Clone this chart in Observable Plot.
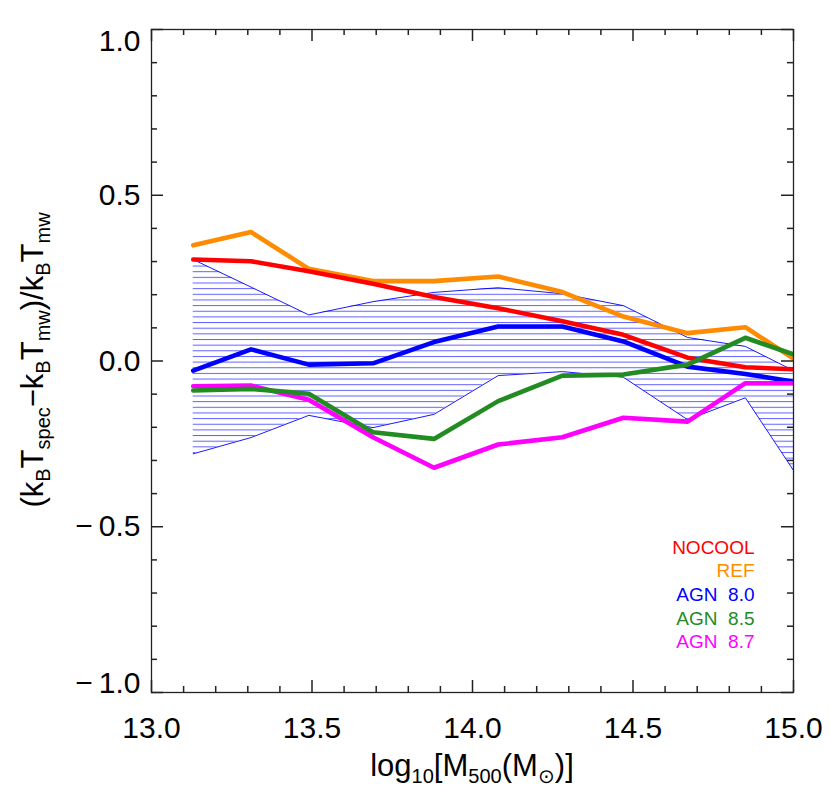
<!DOCTYPE html>
<html>
<head>
<meta charset="utf-8">
<script src="https://cdn.jsdelivr.net/npm/d3@7"></script>
<script src="https://cdn.jsdelivr.net/npm/@observablehq/plot@0.6"></script>
<style>
  html, body { margin: 0; padding: 0; background: #fff; }
  svg text { white-space: pre; }
</style>
</head>
<body>
<div id="chart"></div>
<script>
// ---- data ----
const mass = [13.13, 13.31, 13.49, 13.69, 13.88, 14.08, 14.28, 14.47, 14.67, 14.85, 15.0];
const nocool = [0.306, 0.301, 0.271, 0.233, 0.193, 0.159, 0.120, 0.079, 0.010, -0.019, -0.025];
const ref    = [0.349, 0.389, 0.278, 0.241, 0.241, 0.255, 0.208, 0.134, 0.084, 0.102, 0.007];
const agn80  = [-0.029, 0.035, -0.011, -0.007, 0.057, 0.104, 0.104, 0.059, -0.017, -0.039, -0.062];
const agn85  = [-0.089, -0.084, -0.099, -0.215, -0.235, -0.121, -0.044, -0.041, -0.011, 0.070, 0.020];
const agn87  = [-0.076, -0.074, -0.117, -0.230, -0.322, -0.252, -0.230, -0.171, -0.183, -0.067, -0.067];
const bandHi = [0.306, 0.223, 0.139, 0.179, 0.207, 0.221, 0.203, 0.167, 0.071, 0.044, -0.029];
const bandLo = [-0.280, -0.231, -0.164, -0.201, -0.161, -0.044, -0.032, -0.049, -0.177, -0.111, -0.330];

const seriesNames  = ["REF", "NOCOOL", "AGN 8.0", "AGN 8.7", "AGN 8.5"];
const seriesValues = [ref, nocool, agn80, agn87, agn85];
const seriesColors = ["#ff8c00", "#ff0000", "#0000ff", "#ff00ff", "#228b22"];

const legendNames  = ["NOCOOL", "REF", "AGN\u00a0\u00a08.0", "AGN\u00a0\u00a08.5", "AGN\u00a0\u00a08.7"];
const legendColors = ["#ff0000", "#ff8c00", "#0000ff", "#228b22", "#ff00ff"];

const xMajor = [13.0, 13.5, 14.0, 14.5, 15.0];
const xLabels = ["13.0", "13.5", "14.0", "14.5", "15.0"];
const xMinor = [13.1, 13.2, 13.3, 13.4, 13.6, 13.7, 13.8, 13.9, 14.1, 14.2, 14.3, 14.4, 14.6, 14.7, 14.8, 14.9];
const yMajor = [-1.0, -0.5, 0.0, 0.5, 1.0];
const yLabels = ["\u2212\u20091.0", "\u2212\u20090.5", "0.0", "0.5", "1.0"];
const yMinor = [-0.9, -0.8, -0.7, -0.6, -0.4, -0.3, -0.2, -0.1, 0.1, 0.2, 0.3, 0.4, 0.6, 0.7, 0.8, 0.9];

// ---- layout ----
const W = 830, H = 812, ML = 151, MR = 37, MT = 29, MB = 120;
const FW = W - ML - MR, FH = H - MT - MB;

// ---- tables ----
const band = mass.map((m, i) => ({m, hi: bandHi[i], lo: bandLo[i]}));
const lines = seriesNames.flatMap((name, s) => mass.map((m, i) => ({name, m, v: seriesValues[s][i]})));

const axisColor = "#222";
const FONT = "'Liberation Sans', Arial, Helvetica, sans-serif";

const yLab = (vals) => vals.map(v => ({v, t: yLabels[yMajor.indexOf(v)]}));

// inward ticks on all four sides (pixel lengths via insets)
const tickOpts = {stroke: axisColor, strokeWidth: 1.5};
const xTicks = (vals, len) => [
  Plot.tickX(vals, {x: d => d, insetTop: FH - len, ...tickOpts}),
  Plot.tickX(vals, {x: d => d, insetBottom: FH - len, ...tickOpts})
];
const yTicks = (vals, len) => [
  Plot.tickY(vals, {y: d => d, insetRight: FW - len, ...tickOpts}),
  Plot.tickY(vals, {y: d => d, insetLeft: FW - len, ...tickOpts})
];

const marks = [
  Plot.areaY(band, {x: "m", y1: "lo", y2: "hi", fill: "url(#hatch)", curve: "linear"}),
  Plot.lineY(band, {x: "m", y: "hi", stroke: "#0000ff", strokeWidth: 0.9}),
  Plot.lineY(band, {x: "m", y: "lo", stroke: "#0000ff", strokeWidth: 0.9}),
  ...seriesNames.map((name, s) =>
    Plot.lineY(lines.filter(d => d.name === name), {x: "m", y: "v", stroke: seriesColors[s], strokeWidth: 4.6, clip: true})
  ),
  Plot.frame({stroke: axisColor, strokeWidth: 1.3}),
  ...xTicks(xMajor, 12),
  ...xTicks(xMinor, 6),
  ...yTicks(yMajor, 12),
  ...yTicks(yMinor, 6),
  // tick labels
  Plot.text(xMajor.map((v, i) => ({v, t: xLabels[i]})), {x: "v", text: "t", frameAnchor: "bottom", lineAnchor: "top", dy: 24, fontSize: 30, fill: "#000"}),
  Plot.text(yLab([1.0]), {y: "v", text: "t", frameAnchor: "left", textAnchor: "end", lineAnchor: "top", dx: -11, fontSize: 30, fill: "#000"}),
  Plot.text(yLab([0.5, 0.0, -0.5]), {y: "v", text: "t", frameAnchor: "left", textAnchor: "end", lineAnchor: "middle", dx: -11, fontSize: 30, fill: "#000"}),
  Plot.text(yLab([-1.0]), {y: "v", text: "t", frameAnchor: "left", textAnchor: "end", lineAnchor: "bottom", dx: -11, fontSize: 30, fill: "#000"}),
  // legend
  ...legendNames.map((name, i) =>
    Plot.text([name], {text: d => d, frameAnchor: "bottom-right", textAnchor: "end", dx: -39, dy: -139 + i * 23.7, fontSize: 19, fill: legendColors[i]})
  )
];

const svg = Plot.plot({
  width: W,
  height: H,
  marginLeft: ML,
  marginRight: MR,
  marginTop: MT,
  marginBottom: MB,
  x: {domain: [13, 15], axis: null},
  y: {domain: [-1, 1], axis: null},
  style: {fontFamily: FONT, background: "#fff", color: "#000"},
  marks
});

// hatch pattern
const defs = d3.select(svg).insert("defs", ":first-child");
const pat = defs.append("pattern").attr("id", "hatch").attr("patternUnits", "userSpaceOnUse")
  .attr("width", 20).attr("height", 5.65);
pat.append("rect").attr("x", 0).attr("y", 0).attr("width", 20).attr("height", 1).attr("fill", "#3a3aff").attr("fill-opacity", 0.8);

// axis titles with subscripts
const sel = d3.select(svg);
function rich(t, parts) {
  let down = false;
  parts.forEach(([txt, sub]) => {
    const ts = t.append("tspan").text(txt);
    ts.attr("font-size", sub ? 20 : 31);
    if (sub && !down) { ts.attr("dy", 7); down = true; }
    else if (!sub && down) { ts.attr("dy", -7); down = false; }
  });
}
// x title
rich(sel.append("text").attr("x", 472).attr("y", 776).attr("text-anchor", "middle")
    .attr("font-family", FONT).attr("fill", "#000"),
  [["log", 0], ["10", 1], ["[M", 0], ["500", 1], ["(M", 0], ["\u2299", 1], [")]", 0]]);
// y title
rich(sel.append("text").attr("transform", "translate(43,360) rotate(-90)").attr("text-anchor", "middle")
    .attr("font-family", FONT).attr("fill", "#000"),
  [["(k", 0], ["B", 1], ["T", 0], ["spec", 1], ["\u2212k", 0], ["B", 1], ["T", 0], ["mw", 1], [")/k", 0], ["B", 1], ["T", 0], ["mw", 1]]);

document.getElementById("chart").appendChild(svg);
</script>
</body>
</html>
